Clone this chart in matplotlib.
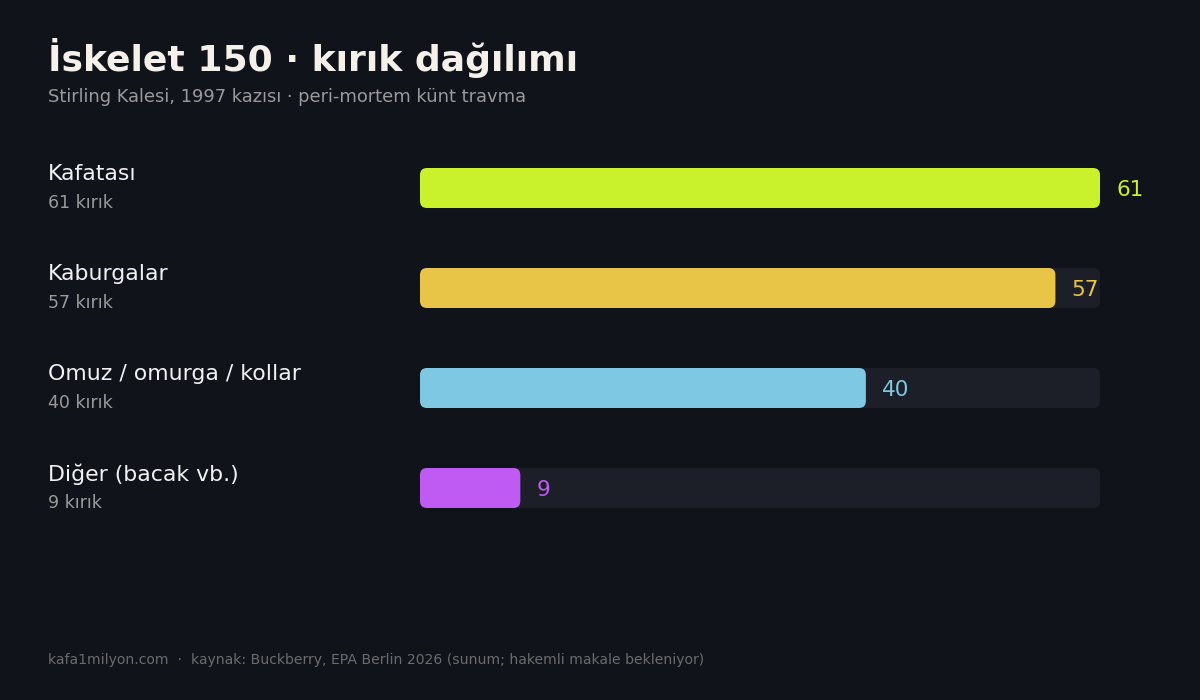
import matplotlib
matplotlib.use("Agg")
import matplotlib.pyplot as plt
from matplotlib.patches import FancyBboxPatch
from matplotlib.transforms import offset_copy

categories = ["Kafatası", "Kaburgalar", "Omuz / omurga / kollar", "Diğer (bacak vb.)"]
counts = [61, 57, 40, 9]
colors = ["#c9f22c", "#e8c547", "#7ec8e3", "#bf5af2"]
max_val = 61

BG = "#10131a"
TRACK = "#1c1f28"

W, H = 1200, 700
fig = plt.figure(figsize=(12, 7), dpi=100, facecolor=BG)

# bar area in pixels: x 420..1100, rows from y=138 to 538 (100px each)
ax = fig.add_axes([420 / W, 1 - 538 / H, 680 / W, 400 / H])
ax.set_facecolor(BG)
ax.set_xlim(0, max_val)
ax.set_ylim(len(categories) - 0.5, -0.5)
ax.axis("off")

px_x = max_val / 680.0   # data units per pixel in x
px_y = 1 / 100.0         # data units per pixel in y
aspect = px_y / px_x
bar_h = 0.4
radius = 7 * px_x


def rounded_bar(x0, y, width, color):
    p = FancyBboxPatch((x0, y - bar_h / 2), width, bar_h,
                       boxstyle=f"round,pad=0,rounding_size={radius}",
                       mutation_aspect=aspect, facecolor=color,
                       edgecolor="none", zorder=2)
    ax.add_patch(p)


for i, (cat, val, col) in enumerate(zip(categories, counts, colors)):
    rounded_bar(0, i, max_val, TRACK)
    rounded_bar(0, i, val, col)
    tr = offset_copy(ax.transData, fig=fig, x=16, y=-2, units="dots")
    ax.text(val, i, str(val), transform=tr, color=col, fontsize=15.5,
            va="center", ha="left", zorder=3)
    # left labels
    yc = 188 + 100 * i
    fig.text(48 / W, 1 - (yc - 14) / H, cat, color="#f2f2f2", fontsize=15.8,
             va="center", ha="left")
    fig.text(48 / W, 1 - (yc + 15) / H, f"{val} kırık", color="#9a9a9a",
             fontsize=12.5, va="center", ha="left")

fig.text(48 / W, 1 - 58 / H, "İskelet 150 · kırık dağılımı", color="#f5f1ea",
         fontsize=26, fontweight="bold", va="center", ha="left")
fig.text(48 / W, 1 - 97 / H, "Stirling Kalesi, 1997 kazısı · peri-mortem künt travma",
         color="#9a9a9a", fontsize=12.9, va="center", ha="left")
fig.text(48 / W, 1 - 660 / H,
         "kafa1milyon.com  ·  kaynak: Buckberry, EPA Berlin 2026 (sunum; hakemli makale bekleniyor)",
         color="#6b6b6b", fontsize=10.1, va="center", ha="left")

fig.savefig("out.png", dpi=100, facecolor=BG)
